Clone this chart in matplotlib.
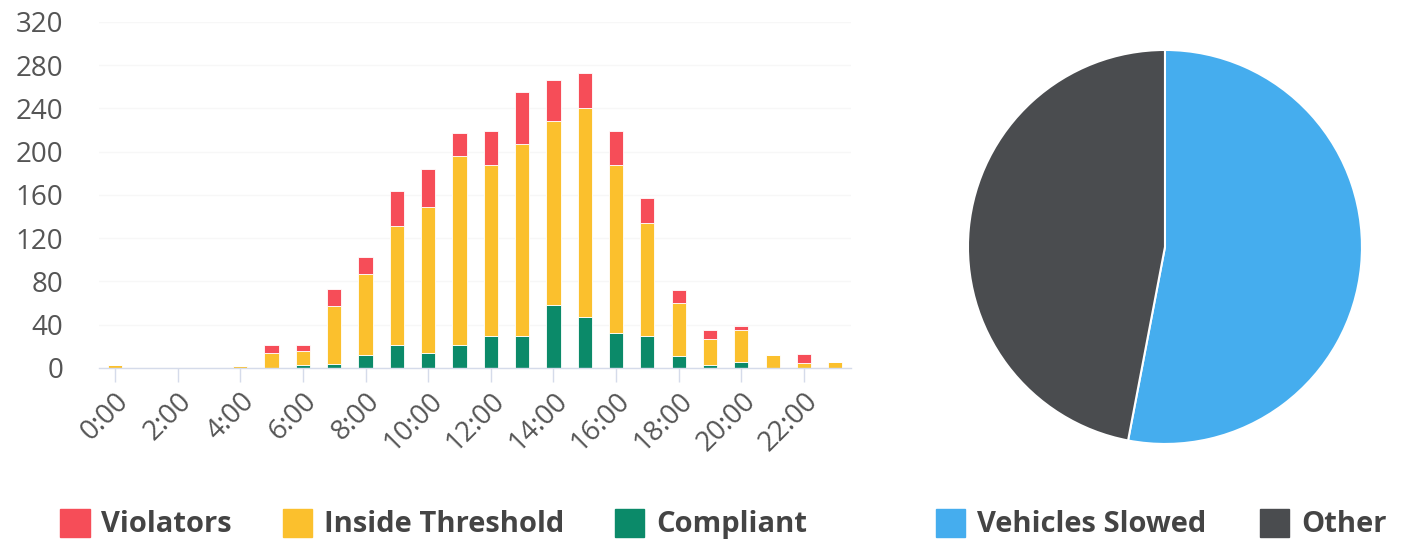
import numpy as np
import matplotlib
matplotlib.use('Agg')
import matplotlib.pyplot as plt
from matplotlib.patches import Patch

plt.rcParams['font.family'] = ['Open Sans', 'DejaVu Sans']

# Hourly counts
hours = [f'{h}:00' for h in range(24)]
compliant = [0, 0, 0, 0, 0, 0, 3, 4, 12, 21, 14, 21, 30, 30, 58, 47, 32, 30, 11, 3, 6, 0, 0, 0]
inside = [3, 0, 0, 0, 2, 14, 13, 53, 75, 110, 135, 175, 158, 177, 170, 193, 156, 104, 49, 24, 29, 12, 5, 6]
violators = [0, 0, 0, 0, 0, 7, 5, 16, 16, 33, 35, 21, 31, 48, 38, 33, 31, 23, 12, 8, 4, 0, 8, 0]

pie_labels = ['Vehicles Slowed', 'Other']
pie_values = [53, 47]

c_red = '#F64D58'
c_yellow = '#FBC02D'
c_green = '#0B8A69'
c_blue = '#45ADEE'
c_grey = '#4A4C4F'
txt = '#555555'

fig = plt.figure(figsize=(14.26, 5.49), dpi=100)

# stacked bars
ax = fig.add_axes([0.0696, 0.3297, 0.5272, 0.6303])
x = np.arange(len(hours))
comp = np.array(compliant)
ins = np.array(inside)
vio = np.array(violators)
w = 0.45
ax.bar(x, comp, width=w, color=c_green, edgecolor='white', linewidth=0.6)
ax.bar(x, ins, bottom=comp, width=w, color=c_yellow, edgecolor='white', linewidth=0.6)
ax.bar(x, vio, bottom=comp + ins, width=w, color=c_red, edgecolor='white', linewidth=0.6)

ax.set_xlim(-0.5, 23.5)
ax.set_ylim(0, 320)
ax.set_yticks(np.arange(0, 321, 40))
ax.set_xticks(x[::2])
ax.set_xticklabels(hours[::2], rotation=45, ha='right', rotation_mode='anchor')
ax.tick_params(axis='y', length=0, labelsize=20, labelcolor=txt, pad=26)
ax.tick_params(axis='x', length=10, width=1, color='#D5DBEA', labelsize=20,
               labelcolor=txt, pad=4)
ax.grid(axis='y', color='#F7F7F7', linewidth=1)
ax.set_axisbelow(True)
for s in ['top', 'right', 'left']:
    ax.spines[s].set_visible(False)
ax.spines['bottom'].set_color('#D5DBEA')
ax.spines['bottom'].set_linewidth(1)

# pie
ax2 = fig.add_axes([0.6788, 0.1913, 0.2763, 0.7177])
ax2.pie(pie_values, colors=[c_blue, c_grey], startangle=90, counterclock=False,
        wedgeprops=dict(edgecolor='white', linewidth=1.5))
ax2.set_xlim(-1.0, 1.0)
ax2.set_ylim(-1.0, 1.0)
ax2.set_aspect('equal')

# legends
h1 = [Patch(color=c_red, label='Violators'),
      Patch(color=c_yellow, label='Inside Threshold'),
      Patch(color=c_green, label='Compliant')]
fig.legend(handles=h1, loc='center left', bbox_to_anchor=(0.024, 0.0455), ncol=3,
           frameon=False, handlelength=1.0, handleheight=1.1, handletextpad=0.4,
           columnspacing=1.75, prop={'size': 21, 'weight': 'bold'}, labelcolor='#444444')
h2 = [Patch(color=c_blue, label=pie_labels[0]),
      Patch(color=c_grey, label=pie_labels[1])]
fig.legend(handles=h2, loc='center left', bbox_to_anchor=(0.638, 0.0455), ncol=2,
           frameon=False, handlelength=1.0, handleheight=1.1, handletextpad=0.4,
           columnspacing=1.85, prop={'size': 21, 'weight': 'bold'}, labelcolor='#444444')

fig.savefig('out.png', dpi=100, facecolor='white')
